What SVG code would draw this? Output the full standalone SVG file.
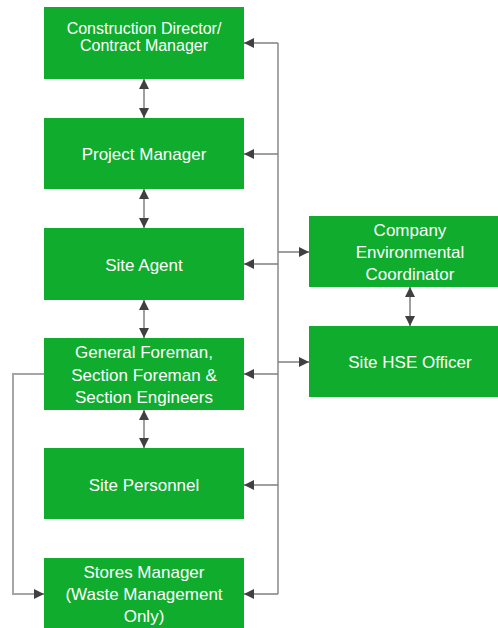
<svg xmlns="http://www.w3.org/2000/svg" width="498" height="628" viewBox="0 0 498 628">
<style>
.box{fill:#0fac2d;}
.t{fill:#ffffff;font-family:"Liberation Sans",Arial,sans-serif;font-size:17px;text-anchor:middle;}
.s{font-size:16px;}
.trunk{fill:none;stroke:#a6a6a6;stroke-width:2;}
.ln{fill:none;stroke:#7f7f7f;stroke-width:1.5;}
</style>
<defs>
<marker id="ah" viewBox="0 0 10 10" refX="10" refY="5" markerWidth="10" markerHeight="10" markerUnits="userSpaceOnUse" orient="auto-start-reverse">
<path d="M0,0 L10,5 L0,10 z" fill="#404040"/>
</marker>
</defs>
<rect width="498" height="628" fill="#ffffff"/>
<g id="n1"><rect class="box" x="44" y="7" width="200" height="72"/><text class="t s" x="144" y="34">Construction Director/</text><text class="t s" x="144" y="51">Contract Manager</text></g>
<g id="n2"><rect class="box" x="44" y="118" width="200" height="71"/><text class="t" x="144" y="160">Project Manager</text></g>
<g id="n3"><rect class="box" x="44" y="228" width="200" height="72"/><text class="t" x="144" y="271">Site Agent</text></g>
<g id="n4"><rect class="box" x="44" y="338" width="200" height="72"/><text class="t" x="144" y="358">General Foreman,</text><text class="t" x="144" y="381">Section Foreman &amp;</text><text class="t" x="144" y="403">Section Engineers</text></g>
<g id="n5"><rect class="box" x="44" y="448" width="200" height="71"/><text class="t" x="144" y="491">Site Personnel</text></g>
<g id="n6"><rect class="box" x="44" y="558" width="200" height="72"/><text class="t" x="144" y="578">Stores Manager</text><text class="t" x="144" y="600">(Waste Management</text><text class="t" x="144" y="622">Only)</text></g>
<g id="n7"><rect class="box" x="309" y="216" width="200" height="71"/><text class="t" x="410" y="236">Company</text><text class="t" x="410" y="258">Environmental</text><text class="t" x="410" y="280">Coordinator</text></g>
<g id="n8"><rect class="box" x="309" y="326" width="200" height="71"/><text class="t" x="410" y="368">Site HSE Officer</text></g>
<g id="connectors">
<line class="trunk" x1="278" y1="43" x2="278" y2="594"/>
<line class="ln" x1="278" y1="43" x2="244" y2="43" marker-end="url(#ah)"/>
<line class="ln" x1="278" y1="154" x2="244" y2="154" marker-end="url(#ah)"/>
<line class="ln" x1="278" y1="264" x2="244" y2="264" marker-end="url(#ah)"/>
<line class="ln" x1="278" y1="374" x2="244" y2="374" marker-end="url(#ah)"/>
<line class="ln" x1="278" y1="485" x2="244" y2="485" marker-end="url(#ah)"/>
<line class="ln" x1="278" y1="594" x2="244" y2="594" marker-end="url(#ah)"/>
<line class="ln" x1="278" y1="252" x2="309" y2="252" marker-end="url(#ah)"/>
<line class="ln" x1="278" y1="362" x2="309" y2="362" marker-end="url(#ah)"/>
<line class="ln" x1="144" y1="79" x2="144" y2="118" marker-start="url(#ah)" marker-end="url(#ah)"/>
<line class="ln" x1="144" y1="189" x2="144" y2="228" marker-start="url(#ah)" marker-end="url(#ah)"/>
<line class="ln" x1="144" y1="300" x2="144" y2="338" marker-start="url(#ah)" marker-end="url(#ah)"/>
<line class="ln" x1="144" y1="410" x2="144" y2="448" marker-start="url(#ah)" marker-end="url(#ah)"/>
<line class="ln" x1="410" y1="287" x2="410" y2="326" marker-start="url(#ah)" marker-end="url(#ah)"/>
<polyline class="trunk" points="44,374 13,374 13,594 34,594"/>
<line class="ln" x1="34" y1="594" x2="44" y2="594" marker-end="url(#ah)"/>
</g>
</svg>
